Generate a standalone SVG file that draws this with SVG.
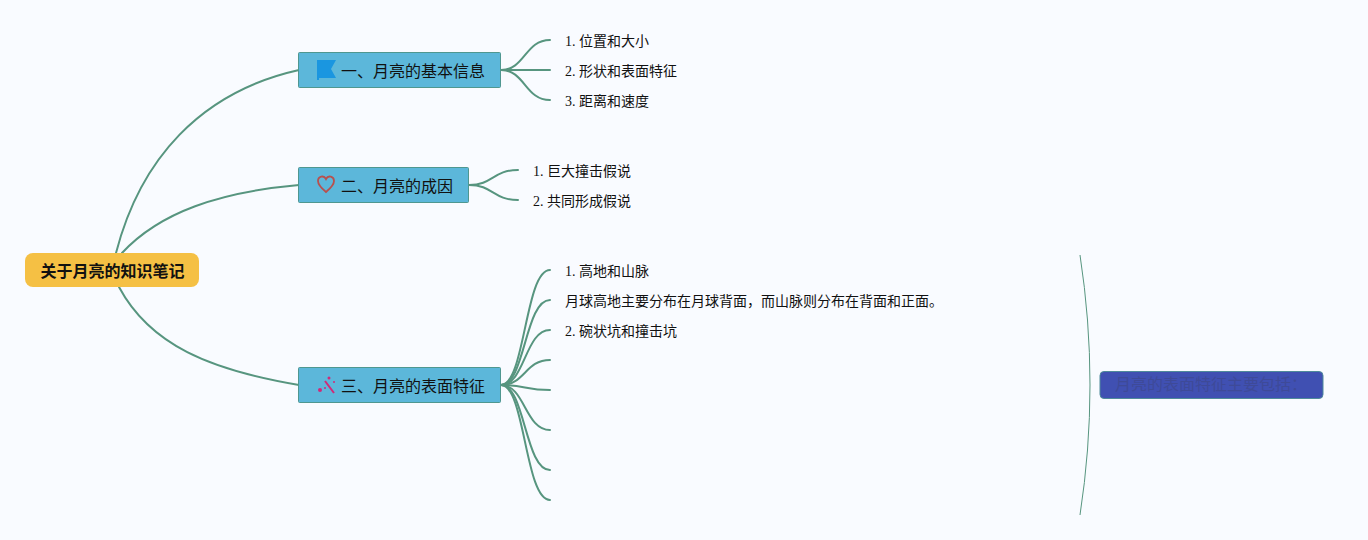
<svg xmlns="http://www.w3.org/2000/svg" width="1368" height="540" viewBox="0 0 1368 540">
<style>
.c{fill:none;stroke:#57957f;stroke-width:2;stroke-linecap:round}
.t{font-family:"Liberation Serif","Noto Sans CJK SC",serif;font-size:14px;fill:#111}
.m{font-family:"Liberation Serif","Noto Sans CJK SC",serif;font-size:16px;fill:#111}
.b{fill:#5cb7da;stroke:#4f9790;stroke-width:1}
</style>
<rect width="1368" height="540" fill="#f9fbff"/>
<g id="connectors">
<path class="c" d="M116 253C140 160 200 92 299 70"/>
<path class="c" d="M122 253C160 212 220 192 299 185"/>
<path class="c" d="M119 287C150 345 210 370 299 385"/>
<path class="c" d="M501 70C525 70 525 40 550 40"/>
<path class="c" d="M501 70H550"/>
<path class="c" d="M501 70C525 70 525 100 550 100"/>
<path class="c" d="M469 185C493 185 493 170 518 170"/>
<path class="c" d="M469 185C493 185 493 200 518 200"/>
<path class="c" d="M501 385C525 385 525 270 550 270"/>
<path class="c" d="M501 385C525 385 525 300 550 300"/>
<path class="c" d="M501 385C525 385 525 330 550 330"/>
<path class="c" d="M501 385C525 385 525 360 550 360"/>
<path class="c" d="M501 385C525 385 525 390 550 390"/>
<path class="c" d="M501 385C525 385 525 430 550 430"/>
<path class="c" d="M501 385C525 385 525 470 550 470"/>
<path class="c" d="M501 385C525 385 525 500 550 500"/>
<path d="M1080 255Q1100 385 1080 515" fill="none" stroke="#57957f" stroke-width="1"/>
</g>
<g id="root"><rect x="25" y="253" width="174" height="34" rx="8" fill="#f5c044"/><text x="112.500" y="277" text-anchor="middle" font-family="'Noto Sans CJK SC',sans-serif" font-size="16" font-weight="700" fill="#111">关于月亮的知识笔记</text></g>
<g id="n1"><rect class="b" x="298.500" y="52.500" width="202" height="35" rx="1"/>
<path d="M317 60H336L331 69L336 78H319V80H317Z" fill="#1a96e0"/><text class="m" x="341" y="77">一、月亮的基本信息</text></g>
<g id="n2"><rect class="b" x="298.500" y="167.500" width="170" height="35" rx="1"/>
<path d="M326 192C320 187 318 184 318 181C318 176 324 175 326 179C328 175 334 176 334 181C334 184 332 187 326 192Z" fill="none" stroke="#b8504e" stroke-width="1.800"/><text class="m" x="341" y="192">二、月亮的成因</text></g>
<g id="n3"><rect class="b" x="298.500" y="367.500" width="202" height="35" rx="1"/>
<path d="M325 381L334 393" stroke="#d02a78" stroke-width="2" fill="none"/><circle cx="320" cy="390" r="2" fill="#d02a78"/><circle cx="329" cy="378" r="1.500" fill="#d02a78"/><circle cx="325" cy="388" r="1" fill="#d02a78"/><circle cx="334" cy="382" r="1" fill="#d02a78"/><text class="m" x="341" y="392">三、月亮的表面特征</text></g>
<g id="l11"><text class="t" x="565" y="46">1. 位置和大小</text></g>
<g id="l12"><text class="t" x="565" y="76">2. 形状和表面特征</text></g>
<g id="l13"><text class="t" x="565" y="106">3. 距离和速度</text></g>
<g id="l21"><text class="t" x="533" y="176">1. 巨大撞击假说</text></g>
<g id="l22"><text class="t" x="533" y="206">2. 共同形成假说</text></g>
<g id="l31"><text class="t" x="565" y="276">1. 高地和山脉</text></g>
<g id="l32"><text class="t" x="565" y="306">月球高地主要分布在月球背面，而山脉则分布在背面和正面。</text></g>
<g id="l33"><text class="t" x="565" y="336">2. 碗状坑和撞击坑</text></g>
<g id="summary"><rect x="1100" y="371.500" width="223" height="27" rx="4" fill="#4050b2" stroke="#4f8a9a"/><text x="1115" y="390" font-family="'Noto Sans CJK SC',sans-serif" font-size="16" fill="#3e4a98">月亮的表面特征主要包括：</text></g>
</svg>
